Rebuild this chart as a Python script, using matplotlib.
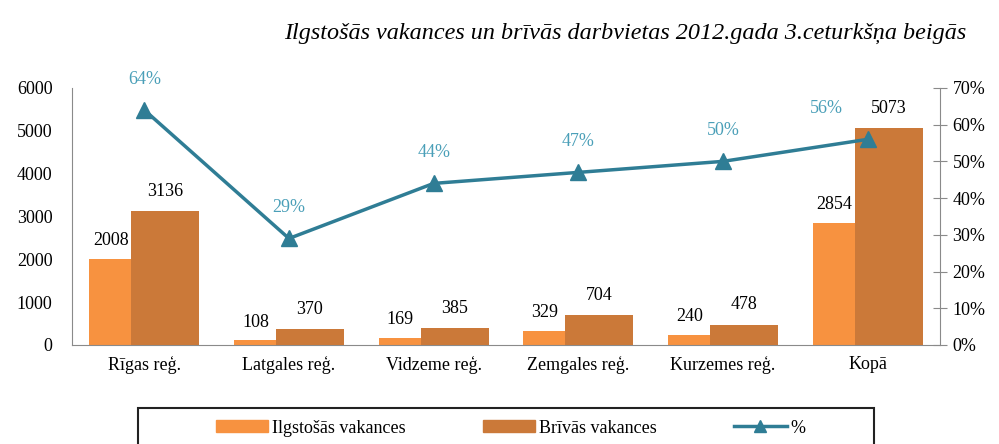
import matplotlib.pyplot as plt
import numpy as np
from matplotlib.patches import Rectangle
from matplotlib.lines import Line2D
from matplotlib.patches import Patch

regions = ["Rīgas reģ.", "Latgales reģ.", "Vidzeme reģ.", "Zemgales reģ.", "Kurzemes reģ.", "Kopā"]
ilgstosas = [2008, 108, 169, 329, 240, 2854]
brivas = [3136, 370, 385, 704, 478, 5073]
pct = [0.64, 0.29, 0.44, 0.47, 0.50, 0.56]

light = "#F79240"
dark = "#CB7939"
teal = "#2F7D95"
teal_txt = "#4A9FB8"
grey = "#8A8A8A"

plt.rcParams['font.family'] = ['Liberation Serif', 'DejaVu Serif']

fig = plt.figure(figsize=(9.99, 4.44), dpi=100)
ax = fig.add_axes([0.072, 0.223, 0.869, 0.579])
ax2 = ax.twinx()

x = np.arange(len(regions))
w = 0.47
ax.bar(x - 0.38, ilgstosas, width=w, align='edge', color=light, zorder=2)
ax.bar(x - 0.09, brivas, width=w, align='edge', color=dark, zorder=3)

for i in range(len(regions)):
    ax.annotate(str(ilgstosas[i]), (x[i] - 0.38 + 0.15, ilgstosas[i]), xytext=(0, 7),
                textcoords='offset points', ha='center', va='bottom', fontsize=13)
    ax.annotate(str(brivas[i]), (x[i] - 0.09 + w / 2, brivas[i]), xytext=(0, 8),
                textcoords='offset points', ha='center', va='bottom', fontsize=13)

ax.set_xlim(-0.5, len(regions) - 0.5)
ax.set_ylim(0, 6000)
ax.set_yticks(range(0, 6001, 1000))
ax.set_xticks(x)
ax.set_xticklabels(regions)
ax.tick_params(axis='both', length=0, labelsize=13)
ax.tick_params(axis='y', pad=14)
ax.tick_params(axis='x', pad=8)
for s in ['top', 'right']:
    ax.spines[s].set_visible(False)
for s in ['left', 'bottom']:
    ax.spines[s].set_color(grey)

ax2.plot(x, pct, color=teal, lw=2.5, marker='^', markersize=11, zorder=5)
ax2.set_ylim(0, 0.7)
ax2.set_yticks(np.arange(0, 0.71, 0.1))
ax2.set_yticklabels([f"{int(round(v * 100))}%" for v in np.arange(0, 0.71, 0.1)])
ax2.tick_params(axis='y', direction='inout', length=10, color=grey, labelsize=13, pad=4)
for s in ['top', 'left', 'bottom']:
    ax2.spines[s].set_visible(False)
ax2.spines['right'].set_color(grey)

for i in range(len(regions)):
    dx = -30 if i == len(regions) - 1 else 0
    ax2.annotate(f"{int(round(pct[i] * 100))}%", (x[i], pct[i]), xytext=(dx, 22),
                 textcoords='offset points', ha='center', va='center',
                 fontsize=13, color=teal_txt)

fig.text(0.626, 0.925, "Ilgstošās vakances un brīvās darbvietas 2012.gada 3.ceturkšņa beigās",
         ha='center', va='center', fontsize=17.4, style='italic')

# legend box
fig.patches.append(Rectangle((138 / 999, -0.05), (874 - 138) / 999, 0.05 + (444 - 408) / 444,
                             transform=fig.transFigure, fill=False, edgecolor='#222222', lw=1.5))
handles = [Patch(color=light), Patch(color=dark),
           Line2D([0], [0], color=teal, lw=2.5, marker='^', markersize=9)]
fig.legend(handles, ["Ilgstošās vakances", "Brīvās vakances", "%"], ncol=3, frameon=False,
           loc='center', bbox_to_anchor=(0.511, 1 - 428 / 444), fontsize=13,
           handlelength=2.9, handleheight=0.6, handletextpad=0.2, columnspacing=4.3)

fig.savefig("out.png", dpi=100)
